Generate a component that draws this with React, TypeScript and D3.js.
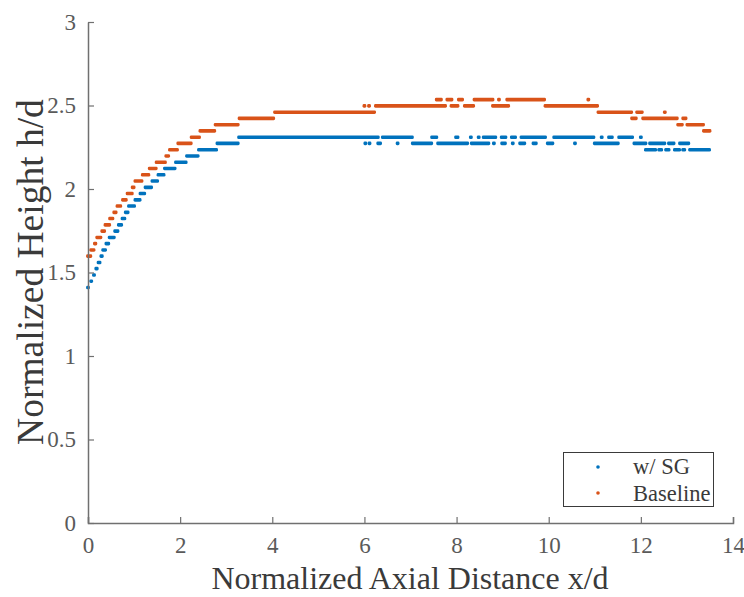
import { useEffect, useRef } from "react";
import * as d3 from "d3";

// each run: [x start, x end, h/d] -- consecutive samples sitting on the same level
const sgRuns: [number, number, number][] = [
  [0, 0, 1.41], [0.07, 0.07, 1.448], [0.13, 0.13, 1.485], [0.18, 0.19, 1.523],
  [0.23, 0.25, 1.56], [0.29, 0.3, 1.598], [0.33, 0.37, 1.635], [0.4, 0.44, 1.673],
  [0.47, 0.56, 1.71], [0.59, 0.64, 1.748], [0.67, 0.72, 1.785], [0.75, 0.79, 1.823],
  [0.82, 0.86, 1.86], [0.89, 1.0, 1.898], [1.03, 1.12, 1.935], [1.14, 1.22, 1.973],
  [1.25, 1.37, 2.01], [1.4, 1.5, 2.048], [1.53, 1.64, 2.085], [1.67, 1.88, 2.123],
  [1.91, 2.12, 2.16], [2.15, 2.38, 2.198], [2.41, 2.78, 2.235], [2.81, 3.25, 2.273],
  [3.28, 6.29, 2.31], [6.02, 6.02, 2.273], [6.11, 6.11, 2.273], [6.3, 6.34, 2.273],
  [6.4, 7.03, 2.31], [6.72, 6.72, 2.273], [7.05, 7.45, 2.273], [7.47, 7.56, 2.31],
  [7.6, 8.23, 2.273], [7.99, 8.02, 2.31], [8.31, 8.31, 2.31], [8.33, 8.69, 2.273],
  [8.48, 8.48, 2.31], [8.59, 8.84, 2.31], [8.81, 8.81, 2.273], [8.98, 9.06, 2.31],
  [8.99, 9.05, 2.273], [9.2, 9.27, 2.31], [9.22, 9.22, 2.273], [9.38, 9.47, 2.273],
  [9.41, 9.92, 2.31], [9.67, 9.72, 2.273], [9.98, 10.08, 2.273], [10.12, 10.97, 2.31],
  [10.57, 10.57, 2.273], [11.0, 11.5, 2.273], [11.15, 11.15, 2.31], [11.31, 11.37, 2.31],
  [11.53, 11.81, 2.31], [11.86, 12.1, 2.273], [12.0, 12.0, 2.31], [12.11, 12.31, 2.235],
  [12.2, 12.51, 2.273], [12.4, 12.44, 2.235], [12.55, 12.6, 2.235], [12.61, 12.71, 2.273],
  [12.74, 12.83, 2.235], [12.85, 13.03, 2.273], [12.92, 12.94, 2.235], [13.07, 13.48, 2.235],
];

const baselineRuns: [number, number, number][] = [
  [0, 0.05, 1.598], [0.07, 0.12, 1.635], [0.15, 0.16, 1.673], [0.2, 0.27, 1.71],
  [0.31, 0.35, 1.748], [0.38, 0.46, 1.785], [0.48, 0.53, 1.823], [0.57, 0.6, 1.86],
  [0.64, 0.7, 1.898], [0.76, 0.82, 1.935], [0.86, 0.95, 1.973], [0.97, 0.99, 2.01],
  [1.03, 1.16, 2.048], [1.19, 1.31, 2.085], [1.34, 1.47, 2.123], [1.49, 1.67, 2.16],
  [1.7, 1.74, 2.198], [1.78, 1.93, 2.235], [1.96, 2.23, 2.273], [2.25, 2.41, 2.31],
  [2.44, 2.74, 2.348], [2.77, 3.25, 2.385], [3.29, 4.02, 2.423], [4.06, 6.21, 2.46],
  [6.0, 6.0, 2.498], [6.1, 6.1, 2.498], [6.25, 7.75, 2.498], [7.57, 7.66, 2.535],
  [7.8, 7.89, 2.535], [7.89, 8.02, 2.498], [8.05, 8.12, 2.535], [8.18, 8.36, 2.498],
  [8.39, 8.78, 2.535], [8.79, 9.12, 2.498], [8.92, 8.92, 2.535], [9.1, 9.9, 2.535],
  [9.93, 11.05, 2.498], [10.86, 10.86, 2.535], [11.08, 11.79, 2.46], [11.81, 11.89, 2.423],
  [11.92, 12.02, 2.46], [12.05, 12.78, 2.423], [12.52, 12.52, 2.46], [12.81, 12.89, 2.385],
  [12.92, 12.97, 2.423], [13.01, 13.35, 2.385], [13.37, 13.49, 2.348],
];

const seriesNames = ["w/ SG", "Baseline"];
const seriesColors = ["#0072BD", "#D95319"];
const xTicks = [0, 2, 4, 6, 8, 10, 12, 14];
const yTicks = [0, 0.5, 1, 1.5, 2, 2.5, 3];

const W = 744;
const H = 597;
const FONT = '"Liberation Serif", "Times New Roman", "DejaVu Serif", serif';

const App = () => {
  const svgRef = useRef<SVGSVGElement>(null);

  useEffect(() => {
    const svg = d3.select(svgRef.current);
    svg.selectAll("*").remove();

    const xScale = d3.scaleLinear().domain([0, 14]).range([88, 733]);
    const yScale = d3.scaleLinear().domain([0, 3]).range([523, 22]);

    // Add Points (drawn as runs of overlapping dots)
    const dotW = 3.8;
    const dotH = 3.6;
    [sgRuns, baselineRuns].forEach((runs, i) => {
      svg
        .append("g")
        .selectAll("rect")
        .data(runs)
        .enter()
        .append("rect")
        .attr("x", (d) => xScale(d[0]) - dotW / 2)
        .attr("width", (d) => xScale(d[1]) - xScale(d[0]) + dotW)
        .attr("y", (d) => yScale(d[2]) - dotH / 2)
        .attr("height", dotH)
        .attr("rx", 1.4)
        .style("fill", seriesColors[i]);
    });

    // Add X Axis
    const xAxis = d3
      .axisBottom(xScale)
      .tickValues(xTicks)
      .tickSizeInner(-6)
      .tickSizeOuter(-6)
      .tickPadding(14)
      .tickFormat(d3.format("d"));
    const gx = svg.append("g").attr("transform", `translate(0, ${yScale(0)})`).call(xAxis);

    // Add Y Axis
    const yAxis = d3
      .axisLeft(yScale)
      .tickValues(yTicks)
      .tickSizeInner(-6)
      .tickSizeOuter(0)
      .tickPadding(12)
      .tickFormat((d) => String(d));
    const gy = svg.append("g").attr("transform", `translate(${xScale(0)}, 0)`).call(yAxis);

    [gx, gy].forEach((g) => {
      g.attr("font-family", FONT).attr("font-size", 23);
      g.select(".domain").attr("stroke", "#707070").attr("stroke-width", 1.5);
      g.selectAll(".tick line").attr("stroke", "#707070").attr("stroke-width", 1.2);
      g.selectAll(".tick text").attr("fill", "#5a5a5a");
    });

    // Add X Axis Label
    svg
      .append("text")
      .attr("x", 410)
      .attr("y", 589)
      .attr("text-anchor", "middle")
      .attr("fill", "#3a3a3a")
      .attr("font-family", FONT)
      .attr("font-size", 32)
      .text("Normalized Axial Distance x/d");

    // Add Y Axis Label
    svg
      .append("text")
      .attr("transform", "translate(43, 272) rotate(-90)")
      .attr("text-anchor", "middle")
      .attr("fill", "#3a3a3a")
      .attr("font-family", FONT)
      .attr("font-size", 37.5)
      .text("Normalized Height h/d");

    // Add Legend
    const legend = svg.append("g");
    legend
      .append("rect")
      .attr("x", 563.5)
      .attr("y", 452.5)
      .attr("width", 150)
      .attr("height", 54)
      .attr("fill", "#fff")
      .attr("stroke", "#3a3a3a")
      .attr("stroke-width", 1);
    seriesNames.forEach((name, i) => {
      legend
        .append("circle")
        .attr("cx", 598)
        .attr("cy", 467 + i * 26)
        .attr("r", 1.8)
        .style("fill", seriesColors[i]);
      legend
        .append("text")
        .attr("x", 633)
        .attr("y", 474 + i * 26.5)
        .attr("fill", "#3a3a3a")
        .attr("font-family", FONT)
        .attr("font-size", 22.5)
        .text(name);
    });
  }, []);

  return (
    <svg
      ref={svgRef}
      width={W}
      height={H}
      viewBox={`0 0 ${W} ${H}`}
      style={{ position: "absolute", left: 0, top: 0, background: "#fff" }}
    ></svg>
  );
};

export default App;
